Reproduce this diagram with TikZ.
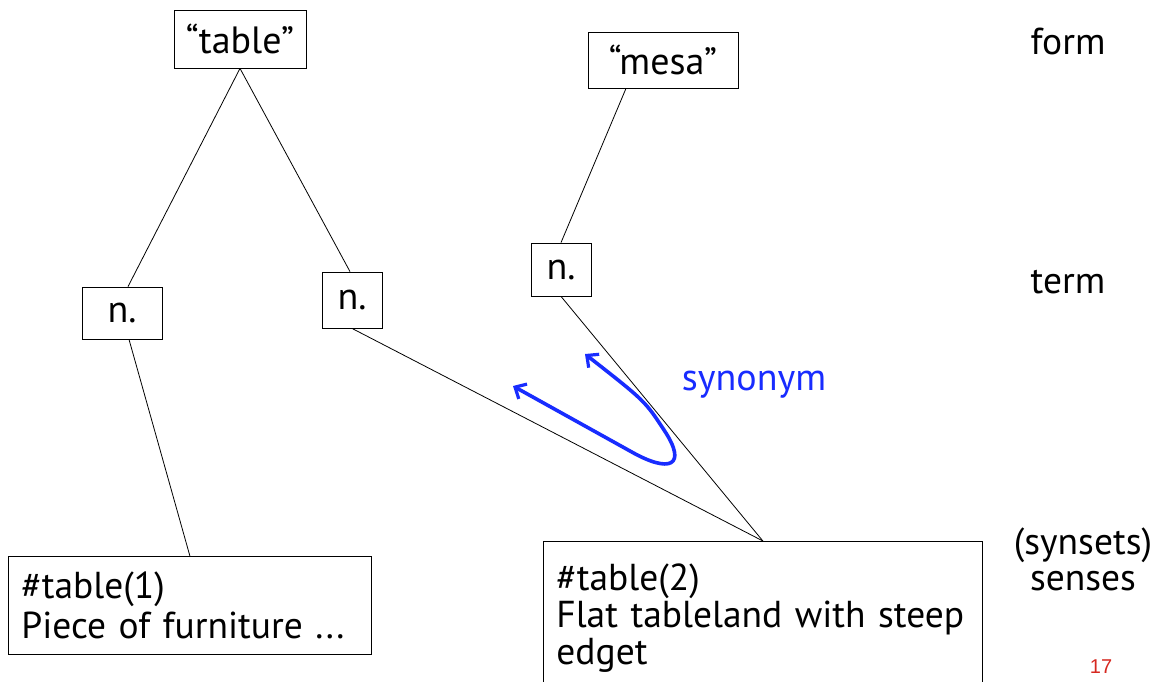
\documentclass[tikz,border=0pt]{standalone}
\usepackage{fontspec}
\setmainfont{PT Sans}
\newfontfamily\numfont{Liberation Sans}
\usetikzlibrary{arrows.meta}
\definecolor{synblue}{RGB}{24,44,255}
\definecolor{pagered}{RGB}{214,40,32}
\tikzset{
  word/.style={draw, line width=0.8pt, inner sep=0pt, font=\fontsize{38}{40}\selectfont},
  sense/.style={draw, line width=0.8pt, anchor=north west, align=left, inner xsep=13pt, inner ysep=0pt,
                font=\fontsize{37.5}{37}\selectfont},
  link/.style={line width=0.8pt},
  level/.style={font=\fontsize{37.5}{33}\selectfont, inner sep=0pt},
  syn/.style={synblue, line width=3.6pt, line cap=round, line join=round,
              {Straight Barb[length=9pt,width=17pt,line width=3.2pt]}-{Straight Barb[length=9pt,width=17pt,line width=3.2pt]}}
}
\begin{document}
\begin{tikzpicture}[x=1pt,y=-1pt]
\useasboundingbox (0,0) rectangle (1174,681);

% word forms
\node[word, minimum width=132pt, minimum height=58pt] (tab) at (240,39) {“table”};
\node[word, minimum width=150pt, minimum height=56pt] (mesa) at (663,60) {“mesa”};

% terms
\node[word, minimum width=80pt, minimum height=52pt] (n1) at (122,313) {n.};
\node[word, minimum width=60pt, minimum height=56pt] (n2) at (352,300) {n.};
\node[word, minimum width=60pt, minimum height=53pt] (n3) at (561,269.5) {n.};

% senses
\node[sense, text width=337pt, minimum height=98pt] (s1) at (8,556)
  {\#table(1)\\[3pt]Piece of furniture ...};
\node[sense, text width=413pt, minimum height=153pt] (s2) at (543,541)
  {\#table(2)\\Flat tableland with steep\\edget};

% connectors
\draw[link] (tab.south) -- ([xshift=6pt]n1.north);
\draw[link] (tab.south) -- ([xshift=-2pt]n2.north);
\draw[link] ([xshift=-37pt]mesa.south) -- (n3.north);
\draw[link] ([xshift=7pt]n1.south) -- (s1.north);
\draw[link] (n2.south) -- (s2.north);
\draw[link] (n3.south) -- (s2.north);

% synonym relation
\coordinate (p1) at (513,386);
\coordinate (p2) at (585,354);
\draw[syn] (p1) -- (630,451) .. controls (670,474) and (688,466) .. (664,430)
  .. controls (645,401) .. (p2);
\node[synblue, font=\fontsize{38}{35}\selectfont] (synl) at (754,385) {synonym};

% level labels
\node[level] (lform) at (1068,41) {form};
\node[level] (lterm) at (1068,282) {term};
\node[level] (lsyn) at (1083,545) {(synsets)};
\node[level] (lsense) at (1083,581) {senses};
\node[pagered, font=\numfont\fontsize{20}{22}\selectfont] (pg) at (1101,667) {17};
\end{tikzpicture}
\end{document}
